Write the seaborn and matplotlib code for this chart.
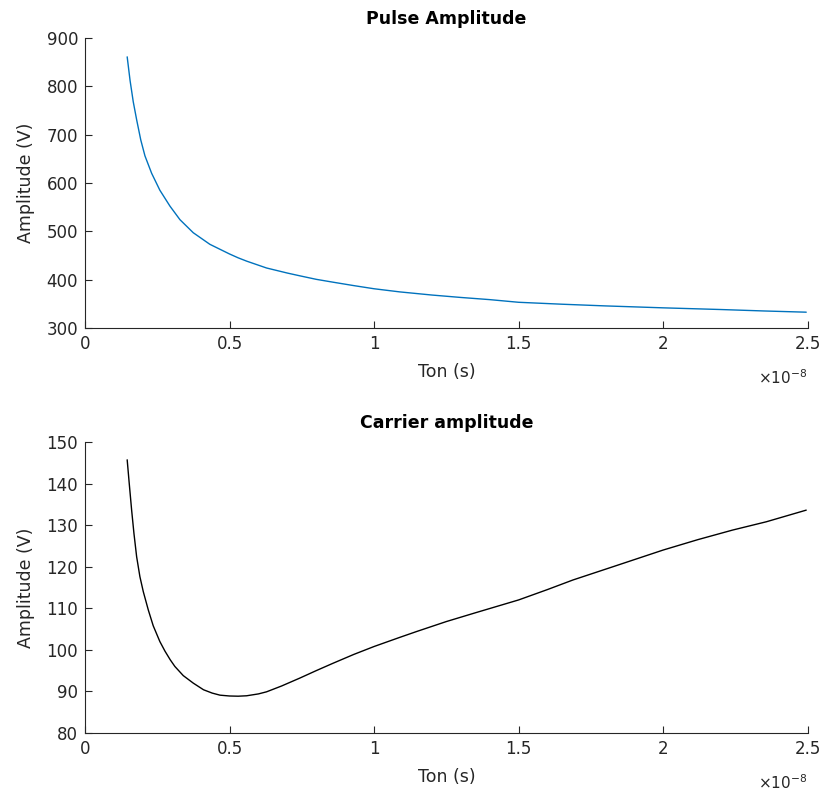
import numpy as np
import seaborn as sns
import matplotlib.pyplot as plt
from matplotlib.ticker import FuncFormatter

# Values (Ton in units of 1e-8 s)
pulse_ton = [0.146, 0.156, 0.167, 0.179, 0.193, 0.2075, 0.2306, 0.259, 0.294, 0.3285,
             0.3745, 0.432, 0.5, 0.53, 0.56, 0.628, 0.7, 0.743, 0.8, 0.859,
             0.93, 1.0, 1.089, 1.2, 1.3, 1.4, 1.5, 1.65, 1.8, 2.0,
             2.2, 2.35, 2.495]
pulse_amp = [861, 812, 768, 730, 689, 656, 620, 585, 552, 524,
             497, 473, 453, 445, 438, 424, 413.5, 407.8, 400.5, 394.5,
             387.5, 381, 374.5, 368, 363, 358.5, 353, 349, 345.5, 341.5,
             338, 335, 332.5]

carrier_ton = [0.146, 0.153, 0.1614, 0.1694, 0.1787, 0.19, 0.2017, 0.219, 0.236, 0.259,
               0.2766, 0.295, 0.311, 0.34, 0.3745, 0.41, 0.44, 0.467, 0.5, 0.53,
               0.559, 0.6, 0.628, 0.68, 0.743, 0.8, 0.859, 0.93, 1.0, 1.089,
               1.147, 1.25, 1.35, 1.5, 1.6, 1.688, 1.827, 2.0, 2.12, 2.24,
               2.357, 2.495]
carrier_amp = [145.7, 140.1, 133.6, 128.0, 122.4, 117.6, 114.0, 109.6, 105.8, 102.0,
               99.7, 97.6, 96.0, 93.8, 92.0, 90.4, 89.6, 89.1, 88.9, 88.85,
               88.95, 89.4, 89.9, 91.3, 93.2, 95.0, 96.8, 98.9, 100.8, 103.0,
               104.4, 106.8, 108.9, 112.0, 114.5, 116.8, 120.0, 124.0, 126.5, 128.8,
               130.8, 133.6]

x_ticks = [0, 0.5, 1, 1.5, 2, 2.5]
pulse_yticks = [300, 400, 500, 600, 700, 800, 900]
carrier_yticks = [80, 90, 100, 110, 120, 130, 140, 150]

sns.set_style('ticks')
plt.rcParams['font.family'] = ['DejaVu Sans']
grey = '#262626'

fig = plt.figure(figsize=(8.25, 7.92), dpi=100)
ax1 = fig.add_axes([0.103, 0.586, 0.876, 0.366])
ax2 = fig.add_axes([0.103, 0.0745, 0.876, 0.3675])

panels = [
    (ax1, pulse_ton, pulse_amp, '#0072BD', 'Pulse Amplitude', pulse_yticks),
    (ax2, carrier_ton, carrier_amp, 'black', 'Carrier amplitude', carrier_yticks),
]

for ax, ton, amp, color, title, yticks in panels:
    ton_s = np.array(ton) * 1e-8
    sns.lineplot(x=ton_s, y=amp, ax=ax, color=color, linewidth=1.0)
    ax.set_xlim(0, 2.5e-8)
    ax.set_ylim(yticks[0], yticks[-1])
    ax.set_xticks(np.array(x_ticks) * 1e-8)
    ax.set_yticks(yticks)
    ax.xaxis.set_major_formatter(FuncFormatter(lambda v, p: '%g' % round(v / 1e-8, 3)))
    ax.tick_params(direction='in', length=5, width=0.8, colors=grey,
                   labelsize=12, labelcolor=grey, pad=5)
    for s in ['top', 'right']:
        ax.spines[s].set_visible(False)
    for s in ['left', 'bottom']:
        ax.spines[s].set_color(grey)
        ax.spines[s].set_linewidth(0.8)
    ax.set_title(title, fontsize=12.5, fontweight='bold', color='black', pad=10)
    ax.set_xlabel('Ton (s)', fontsize=12.5, color=grey, labelpad=7)
    ax.set_ylabel('Amplitude (V)', fontsize=12.5, color=grey, labelpad=8)
    ax.text(1.0, -0.172, r'$\times$10$^{-8}$', transform=ax.transAxes,
            ha='right', va='center', fontsize=11, color=grey)

plt.savefig('out.png', dpi=100)
